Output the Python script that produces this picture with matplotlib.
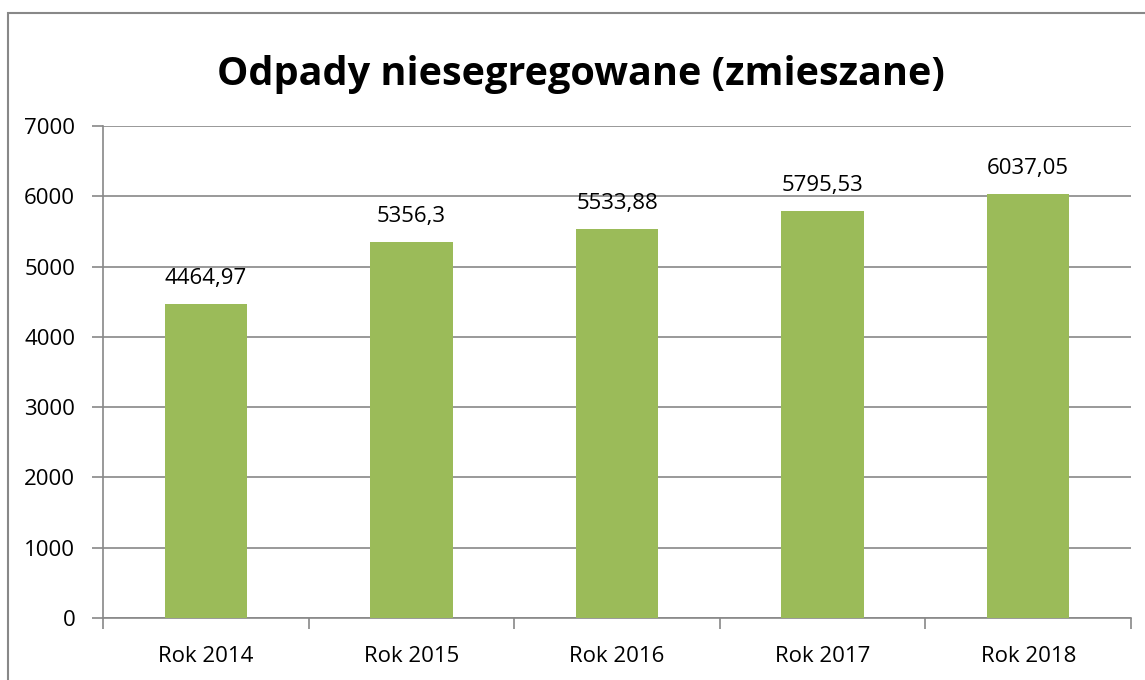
import matplotlib
matplotlib.use("Agg")
import matplotlib.pyplot as plt
from matplotlib.patches import Rectangle

categories = ["Rok 2014", "Rok 2015", "Rok 2016", "Rok 2017", "Rok 2018"]
values = [4464.97, 5356.3, 5533.88, 5795.53, 6037.05]
value_labels = ["4464,97", "5356,3", "5533,88", "5795,53", "6037,05"]
title = "Odpady niesegregowane (zmieszane)"

plt.rcParams['font.family'] = ['Open Sans', 'DejaVu Sans']

fig = plt.figure(figsize=(11.45, 6.8), dpi=100)
W, H = 1145, 680
ax = fig.add_axes([103 / W, 1 - 618 / H, (1131 - 103) / W, (618 - 126) / H])

# outer border
fig.patches.append(Rectangle((8 / W, -0.1), 1.2, 1 - 13 / H + 0.1, transform=fig.transFigure,
                             fill=False, edgecolor='#888888', linewidth=1.5, zorder=0))

x = list(range(len(categories)))
ax.bar(x, values, width=0.4, color='#9BBB59', zorder=3)
for xi, v, lab in zip(x, values, value_labels):
    ax.annotate(lab, (xi, v), xytext=(0, 14.4), textcoords='offset points',
                ha='center', va='baseline', fontsize=16, color='black')

ax.set_xlim(-0.5, len(categories) - 0.5)
ax.set_ylim(0, 7000)
ax.set_yticks(range(0, 7001, 1000))
ax.set_yticklabels([str(v) for v in range(0, 7001, 1000)], fontsize=16)
ax.set_xticks(x)
ax.set_xticklabels(categories, fontsize=16)
ax.tick_params(axis='x', length=0, pad=20)
ax.set_xticks([i - 0.5 for i in range(len(categories) + 1)], minor=True)
ax.tick_params(axis='x', which='minor', length=8, color='#888888', width=1.2)
ax.tick_params(axis='y', length=8, color='#888888', width=1.2, pad=12)
ax.grid(axis='y', color='#888888', linewidth=1.2, zorder=0)
for s in ['top', 'right']:
    ax.spines[s].set_visible(False)
for s in ['left', 'bottom']:
    ax.spines[s].set_color('#888888')
    ax.spines[s].set_linewidth(1.2)

fig.text(581 / W, 1 - 85 / H, title, ha='center', va='baseline',
         fontsize=28.5, fontweight='bold')

fig.savefig("out.png", dpi=100)
